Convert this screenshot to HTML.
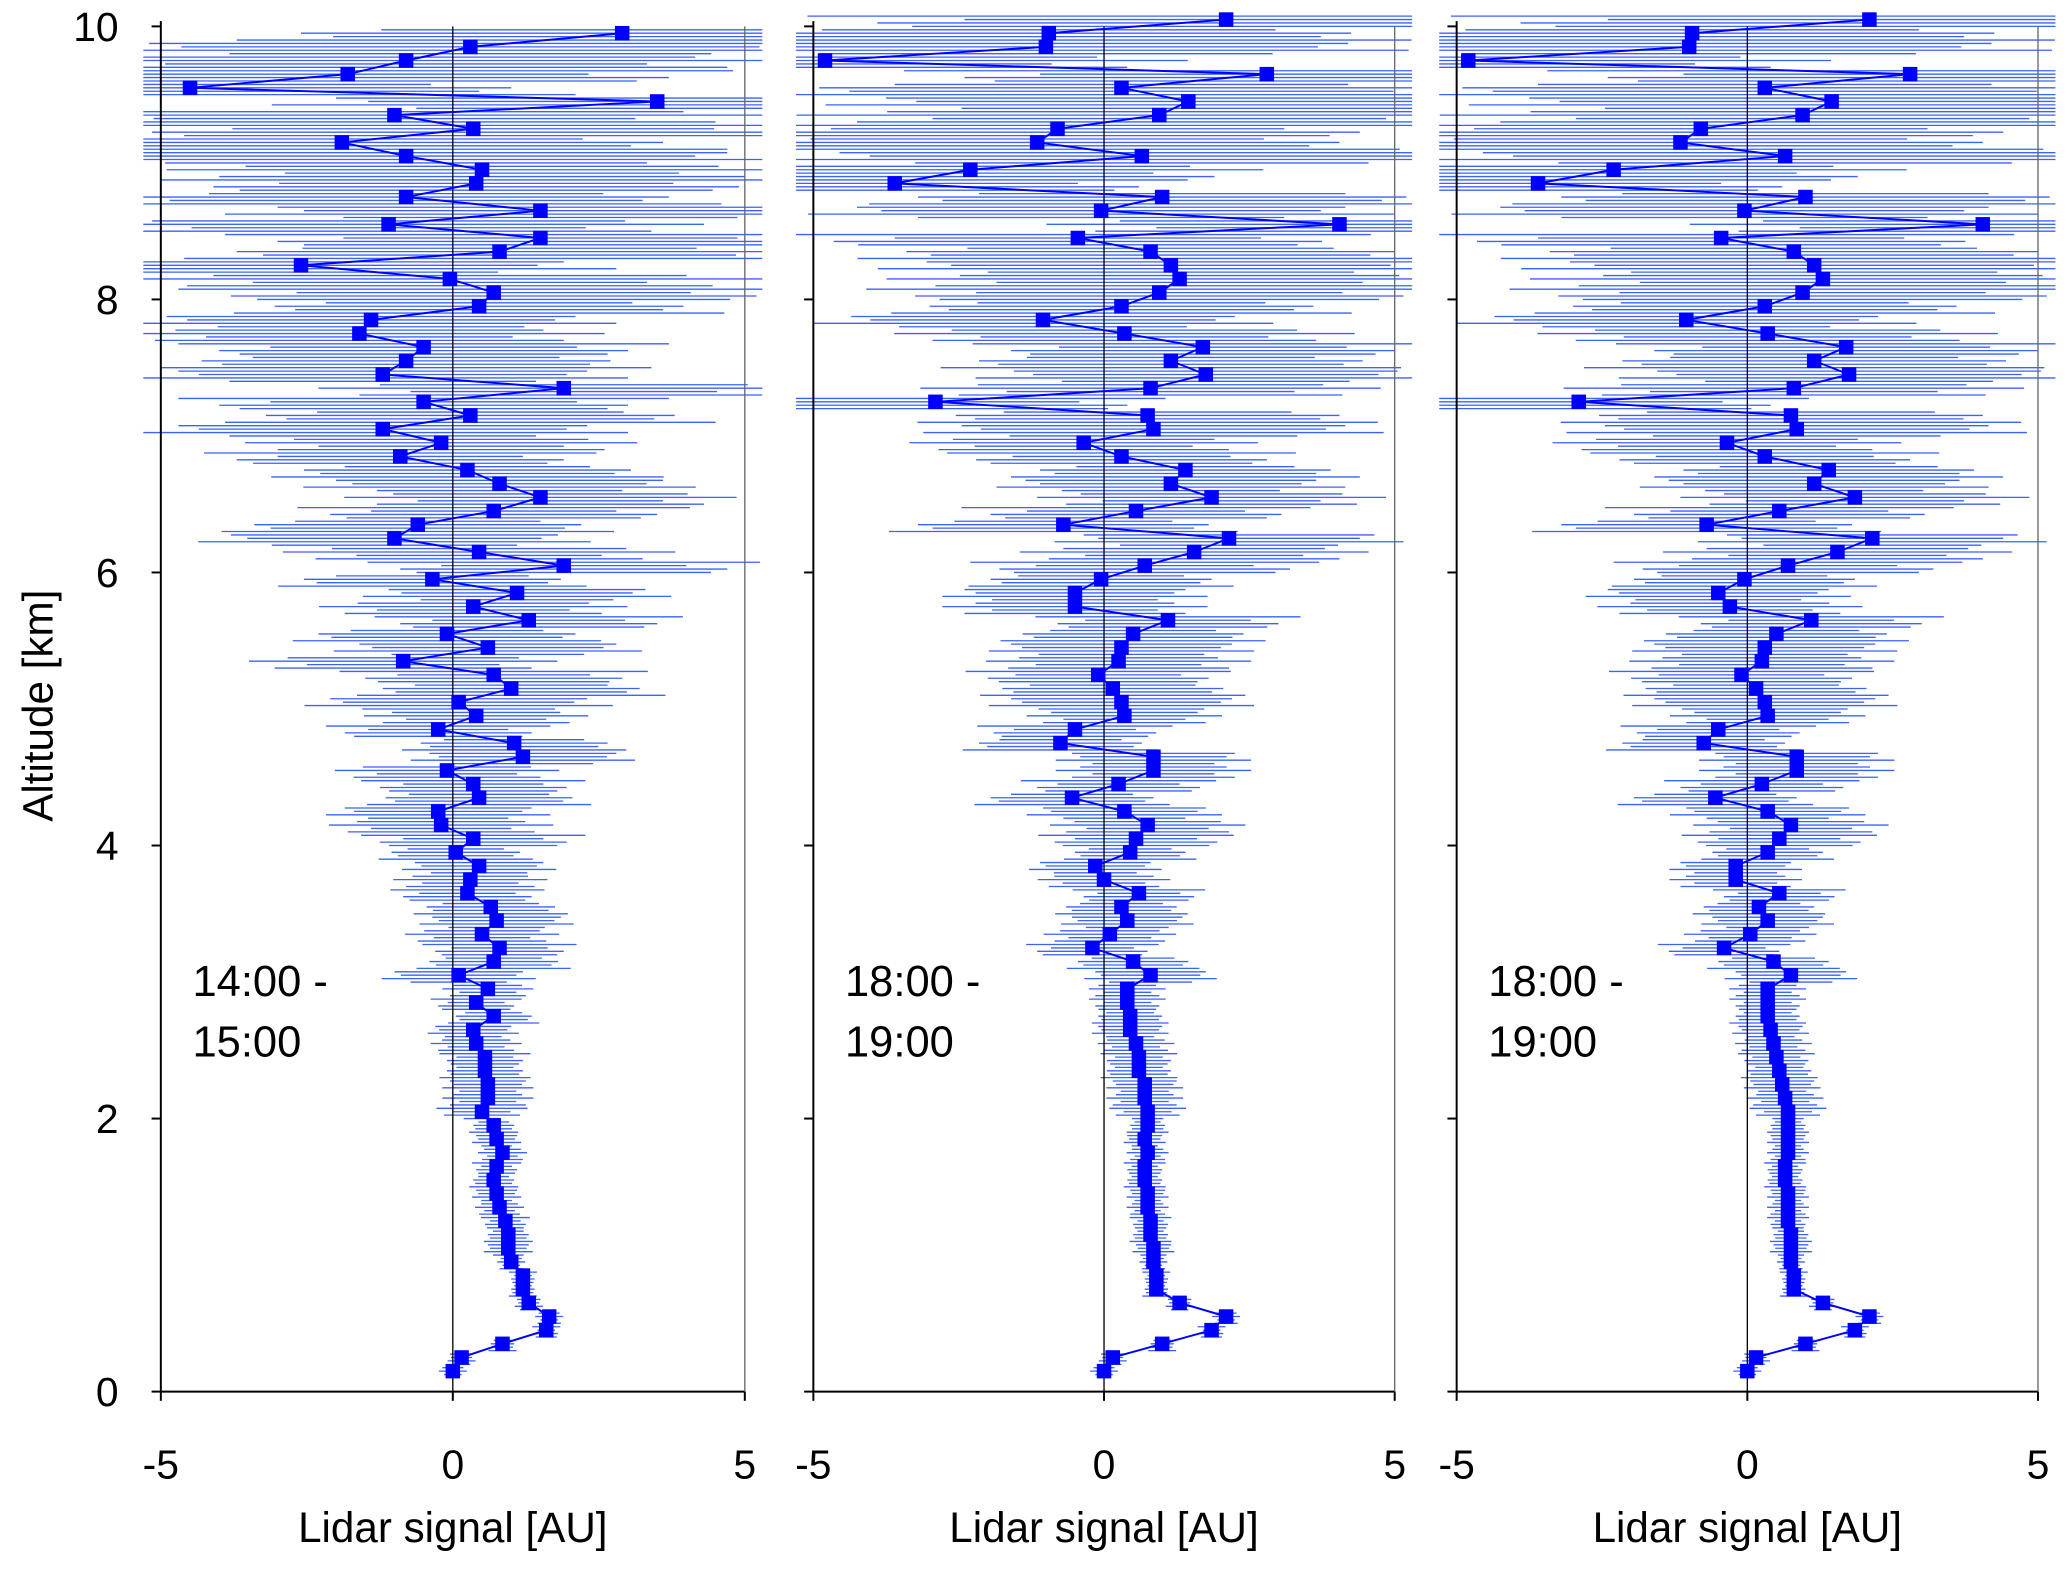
<!DOCTYPE html>
<html><head><meta charset="utf-8"><style>
html,body{margin:0;padding:0;background:#fff;}
svg{display:block;font-family:"Liberation Sans",Arial,sans-serif;}
</style></head><body>
<svg id="chart" width="2067" height="1571" viewBox="0 0 1568 1191" preserveAspectRatio="none" xmlns="http://www.w3.org/2000/svg">
<rect width="1568" height="1191" fill="#fff"/>
<text transform="translate(40,535) rotate(-90)" text-anchor="middle" font-size="32" fill="#000">Altitude [km]</text>
</svg>
<script>
const altitudes1 = [0.15,0.25,0.35,0.45,0.55,0.65,0.75,0.85,0.95,1.05,1.15,1.25,1.35,1.45,1.55,1.65,1.75,1.85,1.95,2.05,2.15,2.25,2.35,2.45,2.55,2.65,2.75,2.85,2.95,3.05,3.15,3.25,3.35,3.45,3.55,3.65,3.75,3.85,3.95,4.05,4.15,4.25,4.35,4.45,4.55,4.65,4.75,4.85,4.95,5.05,5.15,5.25,5.35,5.45,5.55,5.65,5.75,5.85,5.95,6.05,6.15,6.25,6.35,6.45,6.55,6.65,6.75,6.85,6.95,7.05,7.15,7.25,7.35,7.45,7.55,7.65,7.75,7.85,7.95,8.05,8.15,8.25,8.35,8.45,8.55,8.65,8.75,8.85,8.95,9.05,9.15,9.25,9.35,9.45,9.55,9.65,9.75,9.85,9.95];
const signal1 = [0,0.15,0.85,1.6,1.65,1.3,1.2,1.2,1.0,0.95,0.95,0.9,0.8,0.75,0.7,0.75,0.85,0.75,0.7,0.5,0.6,0.6,0.55,0.55,0.4,0.35,0.7,0.4,0.6,0.1,0.7,0.8,0.5,0.75,0.65,0.25,0.3,0.45,0.05,0.35,-0.2,-0.25,0.45,0.35,-0.1,1.2,1.05,-0.25,0.4,0.1,1.0,0.7,-0.85,0.6,-0.1,1.3,0.35,1.1,-0.35,1.9,0.45,-1.0,-0.6,0.7,1.5,0.8,0.25,-0.9,-0.2,-1.2,0.3,-0.5,1.9,-1.2,-0.8,-0.5,-1.6,-1.4,0.45,0.7,-0.05,-2.6,0.8,1.5,-1.1,1.5,-0.8,0.4,0.5,-0.8,-1.9,0.35,-1.0,3.5,-4.5,-1.8,-0.8,0.3,2.9];
const altitudes2 = [0.15,0.25,0.35,0.45,0.55,0.65,0.75,0.85,0.95,1.05,1.15,1.25,1.35,1.45,1.55,1.65,1.75,1.85,1.95,2.05,2.15,2.25,2.35,2.45,2.55,2.65,2.75,2.85,2.95,3.05,3.15,3.25,3.35,3.45,3.55,3.65,3.75,3.85,3.95,4.05,4.15,4.25,4.35,4.45,4.55,4.65,4.75,4.85,4.95,5.05,5.15,5.25,5.35,5.45,5.55,5.65,5.75,5.85,5.95,6.05,6.15,6.25,6.35,6.45,6.55,6.65,6.75,6.85,6.95,7.05,7.15,7.25,7.35,7.45,7.55,7.65,7.75,7.85,7.95,8.05,8.15,8.25,8.35,8.45,8.55,8.65,8.75,8.85,8.95,9.05,9.15,9.25,9.35,9.45,9.55,9.65,9.75,9.85,9.95,10.05];
const signal2 = [0,0.15,1.0,1.85,2.1,1.3,0.9,0.9,0.85,0.85,0.8,0.8,0.75,0.75,0.7,0.7,0.75,0.7,0.75,0.75,0.7,0.7,0.6,0.6,0.55,0.45,0.45,0.4,0.4,0.8,0.5,-0.2,0.1,0.4,0.3,0.6,0,-0.15,0.45,0.55,0.75,0.35,-0.55,0.25,0.85,0.85,-0.75,-0.5,0.35,0.3,0.15,-0.1,0.25,0.3,0.5,1.1,-0.5,-0.5,-0.05,0.7,1.55,2.15,-0.7,0.55,1.85,1.15,1.4,0.3,-0.35,0.85,0.75,-2.9,0.8,1.75,1.15,1.7,0.35,-1.05,0.3,0.95,1.3,1.15,0.8,-0.45,4.05,-0.05,1.0,-3.6,-2.3,0.65,-1.15,-0.8,0.95,1.45,0.3,2.8,-4.8,-1.0,-0.95,2.1];
const altitudes3 = altitudes2.slice();
const signal3 = [0,0.15,1.0,1.85,2.1,1.3,0.8,0.8,0.75,0.75,0.75,0.7,0.7,0.7,0.65,0.65,0.7,0.7,0.7,0.7,0.65,0.6,0.55,0.5,0.45,0.4,0.35,0.35,0.35,0.75,0.45,-0.4,0.05,0.35,0.2,0.55,-0.2,-0.2,0.35,0.55,0.75,0.35,-0.55,0.25,0.85,0.85,-0.75,-0.5,0.35,0.3,0.15,-0.1,0.25,0.3,0.5,1.1,-0.3,-0.5,-0.05,0.7,1.55,2.15,-0.7,0.55,1.85,1.15,1.4,0.3,-0.35,0.85,0.75,-2.9,0.8,1.75,1.15,1.7,0.35,-1.05,0.3,0.95,1.3,1.15,0.8,-0.45,4.05,-0.05,1.0,-3.6,-2.3,0.65,-1.15,-0.8,0.95,1.45,0.3,2.8,-4.8,-1.0,-0.95,2.1];
const errPerKm1 = [0.2,0.35,0.65,1.1,1.6,2.2,2.8,3.5,4.5,5.5,6];
const errPerKm2 = [0.2,0.3,0.55,0.95,1.4,1.9,2.5,3.3,4.2,5.2,6];
const errPerKm3 = [0.2,0.3,0.55,0.95,1.4,1.9,2.5,3.3,4.2,5.2,6];
const xTicks = [-5,0,5];
const yTicks = [0,2,4,6,8,10];
const labels1 = ["14:00 -","15:00"];
const labels2 = ["18:00 -","19:00"];
const labels3 = ["18:00 -","19:00"];

const NS="http://www.w3.org/2000/svg";
const svg=document.getElementById('chart');
function mk(tag,attrs,parent){const e=document.createElementNS(NS,tag);for(const k in attrs)e.setAttribute(k,attrs[k]);(parent||svg).appendChild(e);return e;}
const Y0=1055,Y10=20;
function yScale(a){return Y0+(Y10-Y0)*a/10;}
const jitter=[1,0.75,1.2,0.9];
const panels=[
 {x0:122,x1:565,alt:altitudes1,sig:signal1,err:errPerKm1,lab:labels1,name:'panel-1400'},
 {x0:617,x1:1058,alt:altitudes2,sig:signal2,err:errPerKm2,lab:labels2,name:'panel-1800-a'},
 {x0:1105,x1:1546,alt:altitudes3,sig:signal3,err:errPerKm3,lab:labels3,name:'panel-1800-b'}
];
panels.forEach((p,pi)=>{
 const g=mk('g',{});
 
 
 const xs=v=>p.x0+(v+5)/10*(p.x1-p.x0);
 const clip=v=>Math.max(-5.3,Math.min(5.3,v));
 const eg=mk('g',{stroke:'#3a62ff','stroke-width':1},g);
 
 
 p.alt.forEach((a,i)=>{
  for(let k=0;k<4;k++){
   const aa=a-0.05+k*0.025;
   if(aa<0.1||aa>10.08)continue;
   const e=p.err[Math.min(10,Math.floor(aa))]*jitter[(i+k)%4];
   const v=p.sig[i];
   const ln=mk('line',{x1:xs(clip(v-e)),x2:xs(clip(v+e)),y1:yScale(aa),y2:yScale(aa)},eg);
   
   
  }
 });
 mk('line',{x1:p.x0,x2:p.x0,y1:Y10-4,y2:Y0,stroke:'#000','stroke-width':1.5},g);
 mk('line',{x1:p.x0,x2:p.x1,y1:Y0,y2:Y0,stroke:'#000','stroke-width':1.5},g);
 mk('line',{x1:p.x1,x2:p.x1,y1:Y10,y2:Y0,stroke:'#666','stroke-width':1},g);
 mk('line',{x1:xs(0),x2:xs(0),y1:Y10,y2:Y0,stroke:'#000','stroke-width':1},g);
 yTicks.forEach(t=>{
  mk('line',{x1:p.x0-7,x2:p.x0,y1:yScale(t),y2:yScale(t),stroke:'#000','stroke-width':1.5},g);
  if(pi===0){const tx=mk('text',{x:p.x0-32,y:yScale(t)+11,'text-anchor':'end','font-size':31},g);tx.textContent=t;
   
   }
 });
 xTicks.forEach(t=>{
  mk('line',{x1:xs(t),x2:xs(t),y1:Y0,y2:Y0+7,stroke:'#000','stroke-width':1.5},g);
  const tx=mk('text',{x:xs(t),y:1121,'text-anchor':'middle','font-size':31},g);tx.textContent=t;
  
  
 });
 const xt=mk('text',{x:(p.x0+p.x1)/2,y:1169,'text-anchor':'middle','font-size':32},g);xt.textContent='Lidar signal [AU]';
 
 
 p.lab.forEach((s,i)=>{const t=mk('text',{x:p.x0+24,y:755+i*46,'font-size':33},g);t.textContent=s;
  
  });
 const pts=p.alt.map((a,i)=>xs(p.sig[i])+','+yScale(a)).join(' ');
 const pl=mk('polyline',{points:pts,fill:'none',stroke:'#0000ff','stroke-width':1.5},g);
 
 
 p.alt.forEach((a,i)=>{
  const r=mk('rect',{x:xs(p.sig[i])-5.5,y:yScale(a)-5.5,width:11,height:11,fill:'#0000ff'},g);
  
  
 });
});
</script>
</body></html>
